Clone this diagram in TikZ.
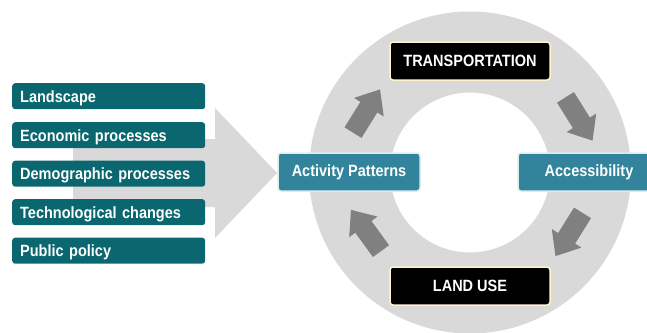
\documentclass[tikz,border=0pt]{standalone}
\usepackage{fontspec}
\setmainfont[FakeStretch=0.89]{Liberation Sans}
\definecolor{leftteal}{HTML}{0A6770}
\definecolor{midteal}{HTML}{31849B}
\definecolor{tealborder}{HTML}{DCEDF0}
\definecolor{ringgray}{HTML}{D9D9D9}
\definecolor{arrowgray}{HTML}{808080}
\definecolor{cream}{HTML}{FFF2CC}
\begin{document}
\begin{tikzpicture}[x=1pt,y=-1pt,
  lbox/.style={fill=leftteal, rounded corners=3pt, text=white, font=\fontsize{16.3}{18}\selectfont\bfseries,
    anchor=north west, inner xsep=8pt, inner ysep=0pt, text width=177pt, align=left,
    minimum height=26pt, text height=13pt, text depth=1pt},
  tbox/.style={fill=midteal, draw=tealborder, line width=1.5pt, rounded corners=3pt, text=white,
    font=\fontsize{16.3}{18}\selectfont\bfseries, minimum width=142pt, minimum height=38pt, inner sep=0pt},
  bbox/.style={fill=black, draw=cream, line width=1.5pt, rounded corners=3pt, text=white,
    font=\fontsize{16.3}{18}\selectfont\bfseries, minimum width=160pt, minimum height=38pt, inner sep=0pt},
  blockarrow/.style={fill=arrowgray}]
\useasboundingbox (0,0) rectangle (647,332);
% big input arrow
\fill[ringgray] (73,139) -- (215,139) -- (215,108) -- (277,173) -- (215,238) -- (215,207) -- (73,207) -- cycle;
% ring
\fill[ringgray, even odd rule] (470,172.5) circle[radius=161] (470,172.5) circle[radius=80];
% cycle arrows
\foreach \cx/\cy/\a in {366.5/111/58, 579/119/-58, 569/234.5/-122, 366/230.5/126}
  \fill[blockarrow, shift={(\cx,\cy)}, rotate=\a]
    (-25.5,-10) -- (4.5,-10) -- (4.5,-17.5) -- (25.5,0) -- (4.5,17.5) -- (4.5,10) -- (-25.5,10) -- cycle;
% left factor boxes
\node[lbox] (land) at (12,83) {Landscape};
\node[lbox] (econ) at (12,122) {Economic processes};
\node[lbox] (demo) at (12,160.5) {Demographic processes};
\node[lbox] (tech) at (12,199) {Technological changes};
\node[lbox] (pub) at (12,237.5) {Public policy};
% cycle boxes
\node[tbox] (act) at (349,172) {Activity Patterns};
\node[tbox] (acc) at (589,172) {Accessibility};
\node[bbox] (trans) at (470,61) {TRANSPORTATION};
\node[bbox] (lu) at (470,286) {LAND USE};
\end{tikzpicture}
\end{document}
